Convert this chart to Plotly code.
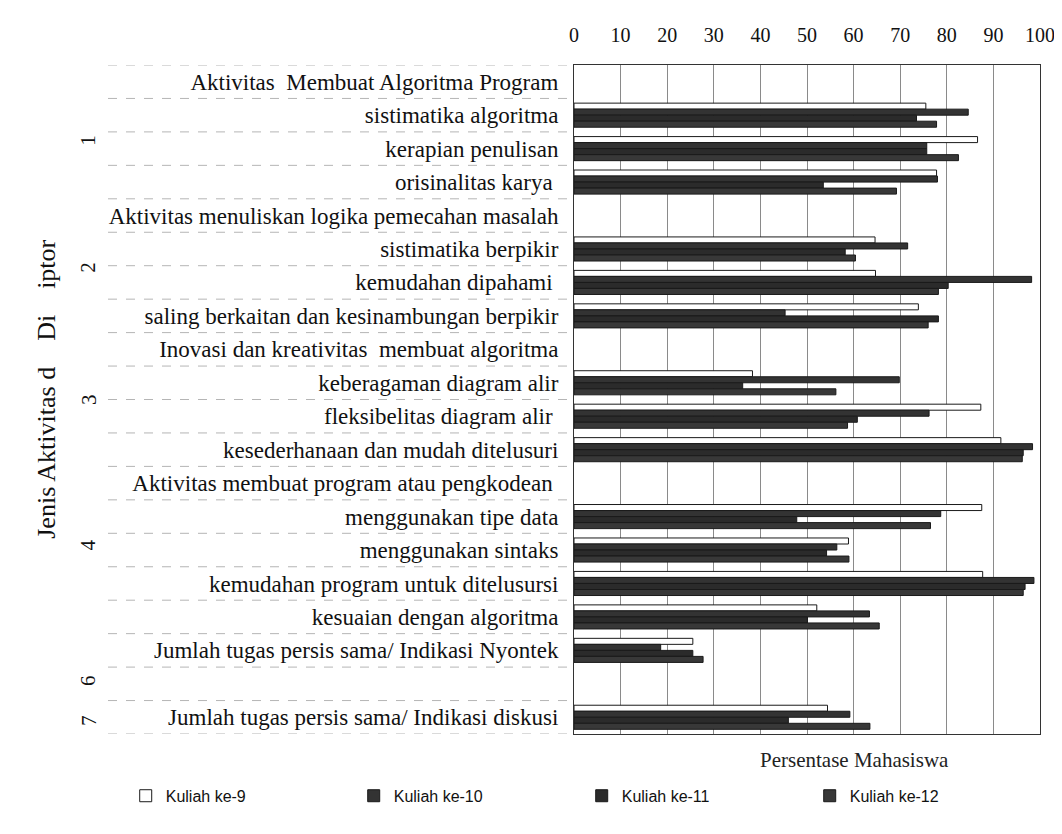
import plotly.graph_objects as go

categories = [
    "Aktivitas  Membuat Algoritma Program",
    "sistimatika algoritma",
    "kerapian penulisan",
    "orisinalitas karya ",
    "Aktivitas menuliskan logika pemecahan masalah",
    "sistimatika berpikir",
    "kemudahan dipahami ",
    "saling berkaitan dan kesinambungan berpikir",
    "Inovasi dan kreativitas  membuat algoritma",
    "keberagaman diagram alir",
    "fleksibelitas diagram alir ",
    "kesederhanaan dan mudah ditelusuri",
    "Aktivitas membuat program atau pengkodean ",
    "menggunakan tipe data",
    "menggunakan sintaks",
    "kemudahan program untuk ditelusursi",
    "kesuaian dengan algoritma",
    "Jumlah tugas persis sama/ Indikasi Nyontek",
    "",
    "Jumlah tugas persis sama/ Indikasi diskusi",
]

series_names = ["Kuliah ke-9", "Kuliah ke-10", "Kuliah ke-11", "Kuliah ke-12"]

kuliah_9 = [None, 75.5, 86.6, 77.8, None, 64.6, 64.7, 73.9, None, 38.3, 87.3, 91.6,
            None, 87.5, 58.9, 87.7, 52.1, 25.5, None, 54.4]
kuliah_10 = [None, 84.6, 75.7, 78.0, None, 71.6, 98.2, 45.3, None, 69.8, 76.2, 98.4,
             None, 78.7, 56.4, 98.7, 63.4, 18.6, None, 59.2]
kuliah_11 = [None, 73.5, 75.7, 53.5, None, 58.2, 80.3, 78.2, None, 36.2, 60.8, 96.4,
             None, 47.8, 54.2, 96.8, 50.1, 25.5, None, 46.0]
kuliah_12 = [None, 77.8, 82.5, 69.2, None, 60.4, 78.2, 76.0, None, 56.2, 58.7, 96.2,
             None, 76.5, 59.0, 96.4, 65.5, 27.7, None, 63.5]

group_labels = ["1", "2", "3", "4", "6", "7"]
group_centers = [1.75, 5.55, 9.5, 13.85, 17.9, 19.1]

x_ticks = [0, 10, 20, 30, 40, 50, 60, 70, 80, 90, 100]

fills = ["#ffffff", "#333333", "#2b2b2b", "#383838"]
all_series = [kuliah_9, kuliah_10, kuliah_11, kuliah_12]
idx = list(range(len(categories)))

serif = "Liberation Serif, Times New Roman, serif"
sans = "Liberation Sans, Arial, sans-serif"

fig = go.Figure()
for name, vals, col in zip(series_names, all_series, fills):
    fig.add_trace(go.Bar(
        y=idx, x=vals, name=name, orientation="h",
        marker=dict(color=col, line=dict(color="#1a1a1a", width=1)),
    ))

# separator lines across the label column
shapes = []
for k in range(len(categories) + 1):
    shapes.append(dict(type="line", xref="paper", yref="y",
                       x0=-1.0, x1=0, y0=k - 0.5, y1=k - 0.5,
                       line=dict(color="#b5b5b5", width=1, dash="dash")))

annotations = []
for lab, c in zip(group_labels, group_centers):
    annotations.append(dict(text=lab, xref="paper", yref="y", x=-1.042, y=c,
                            xanchor="center", yanchor="middle",
                            textangle=-90, showarrow=False,
                            font=dict(family=serif, size=21, color="#111")))
annotations.append(dict(text="Jenis Aktivitas d&nbsp;&nbsp;&nbsp;&nbsp;Di&nbsp;&nbsp;&nbsp;&nbsp;iptor",
                        xref="paper", yref="paper", x=-1.131, y=0.516,
                        xanchor="center", yanchor="middle",
                        textangle=-90, showarrow=False,
                        font=dict(family=serif, size=26, color="#111")))
annotations.append(dict(text="Persentase Mahasiswa", xref="paper", yref="paper",
                        x=0.603, y=-0.018, xanchor="center", yanchor="top",
                        showarrow=False,
                        font=dict(family=serif, size=21, color="#222")))

fig.update_layout(
    width=1062, height=834,
    margin=dict(l=566, r=30, t=57, b=108),
    paper_bgcolor="white", plot_bgcolor="white",
    barmode="group", bargap=0.28, bargroupgap=0.0,
    font=dict(family=serif, size=17, color="#111"),
    shapes=shapes, annotations=annotations,
    legend=dict(orientation="h", x=-0.962, xanchor="left", y=-0.067, yanchor="top",
                font=dict(family=sans, size=16, color="#111"),
                entrywidth=183, entrywidthmode="pixels",
                traceorder="normal"),
    xaxis=dict(side="top", range=[0, 100], tickvals=x_ticks, showgrid=True,
               gridcolor="#8a8a8a", gridwidth=1, zeroline=False,
               showline=True, linecolor="#333", mirror=True, automargin=False,
               tickfont=dict(family=serif, size=20, color="#111"), ticks="",
               ticklabelstandoff=14),
    yaxis=dict(tickvals=idx, ticktext=categories, range=[19.5, -0.5],
               showgrid=False, zeroline=False, showline=True, linecolor="#333",
               mirror=True, ticks="", ticklabelstandoff=10, automargin=False,
               tickfont=dict(family=serif, size=23, color="#111")),
)

fig.write_html("out.html")
